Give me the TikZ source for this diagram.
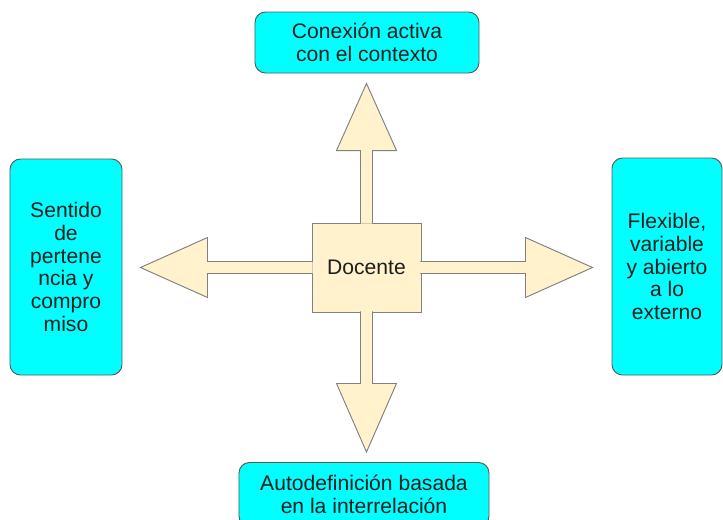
\documentclass[tikz,border=0pt]{standalone}
\usepackage{fontspec}
\setmainfont{Liberation Sans}
\usepackage{tikz}
\usetikzlibrary{positioning}
\usetikzlibrary{calc}
\definecolor{cajacian}{HTML}{00FFFF}
\definecolor{bordecaja}{HTML}{5A5A5A}
\definecolor{crema}{HTML}{FFF2CC}
\definecolor{bordecrema}{HTML}{808080}
\definecolor{texto}{HTML}{1E1E1E}
\begin{document}
\begin{tikzpicture}[x=0.03cm,y=-0.03cm,
	idea/.style={draw=bordecaja,fill=cajacian,line width=0.8pt,rounded corners=9pt,align=center,text=texto,inner sep=0pt,font=\fontsize{18}{19.5}\selectfont},
	centro/.style={draw=bordecrema,fill=crema,line width=0.8pt,text=texto,inner sep=0pt,font=\fontsize{18}{19.5}\selectfont},
	flecha/.style={draw=bordecrema,fill=crema,line width=0.8pt,line join=miter}]
		\useasboundingbox (0,0) rectangle (723,519);
		\node[idea,minimum width=6.72cm,minimum height=1.83cm] (conexion) at (367,42.5) {Conexión activa\\con el contexto};
		\node[idea,minimum width=3.36cm,minimum height=6.48cm] (sentido) at (66,267) {Sentido\\de\\pertene\\ncia y\\compro\\miso};
		\node[idea,minimum width=3.3cm,minimum height=6.51cm] (flexible) at (667,266.5) {Flexible,\\variable\\y abierto\\a lo\\externo};
		\node[idea,minimum width=7.5cm,minimum height=1.92cm] (autodef) at (364,494.5) {Autodefinición basada\\en la interrelación};
		\node[centro,minimum width=3.27cm,minimum height=2.67cm] (docente) at (366.5,267.5) {Docente};
		\filldraw[flecha] ($(docente.north)+(-6,1)$) -- ($(docente.north)+(-6,-72)$) -- ++(-24,0) -- ($(docente.center |- conexion.south)+(0,10)$) -- ($(docente.north)+(30,-72)$) -- ++(-24,0) -- ($(docente.north)+(6,1)$);
		\filldraw[flecha] ($(docente.south)+(-6,-1)$) -- ($(docente.south)+(-6,71)$) -- ++(-24,0) -- ($(docente.center |- autodef.north)+(0,-10)$) -- ($(docente.south)+(30,71)$) -- ++(-24,0) -- ($(docente.south)+(6,-1)$);
		\filldraw[flecha] ($(docente.west)+(1,-6)$) -- ($(docente.west)+(-104,-6)$) -- ++(0,-24) -- ($(docente.center -| sentido.east)+(18,0)$) -- ($(docente.west)+(-104,30)$) -- ++(0,-24) -- ($(docente.west)+(1,6)$);
		\filldraw[flecha] ($(docente.east)+(-1,-6)$) -- ($(docente.east)+(104,-6)$) -- ++(0,-24) -- ($(docente.center -| flexible.west)+(-19,0)$) -- ($(docente.east)+(104,30)$) -- ++(0,-24) -- ($(docente.east)+(-1,6)$);
	\end{tikzpicture}
\end{document}
